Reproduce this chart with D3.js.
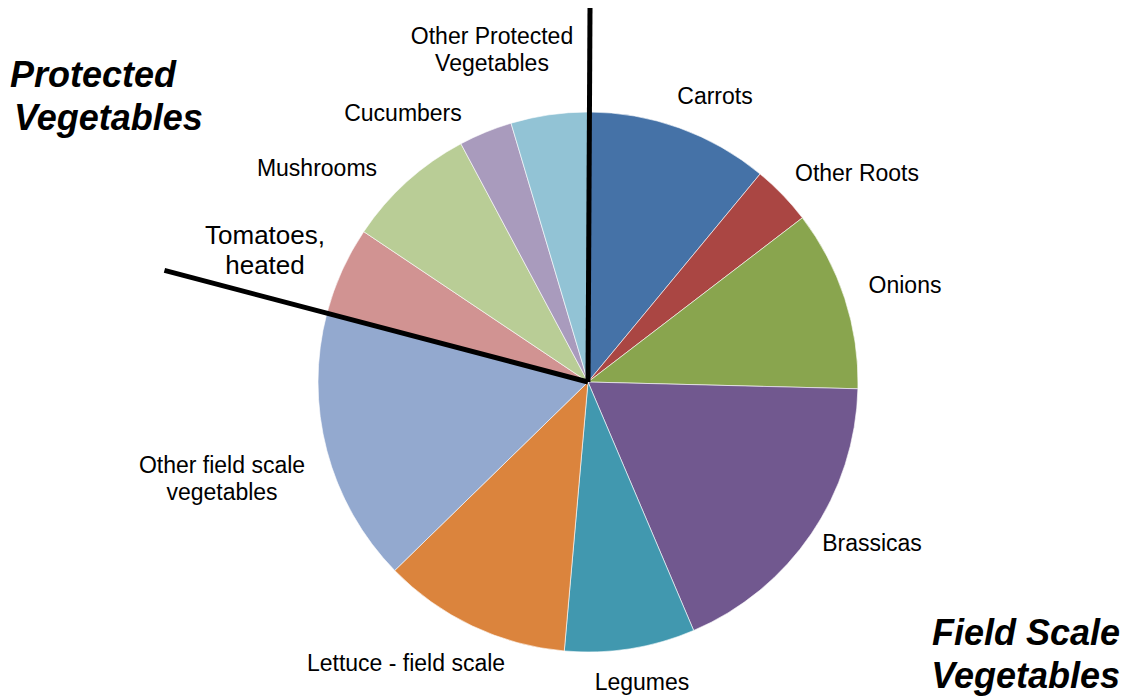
<!DOCTYPE html>
<html>
<head>
<meta charset="utf-8">
<script src="https://cdn.jsdelivr.net/npm/d3@7"></script>
<style>
  body { margin: 0; background: #fff; }
  svg { display: block; font-family: Arial, "Liberation Sans", sans-serif; }
</style>
</head>
<body>
<svg id="chart" width="1131" height="697"></svg>
<script>
const categories = ["Carrots", "Other Roots", "Onions", "Brassicas", "Legumes",
  "Lettuce - field scale", "Other field scale vegetables", "Tomatoes, heated",
  "Mushrooms", "Cucumbers", "Other Protected Vegetables"];
const values = [11.0, 3.6, 10.8, 18.2, 7.8, 11.3, 16.4, 5.3, 7.8, 3.2, 4.6];
const colors = ["#4572A7", "#AA4643", "#89A54E", "#71588F", "#4198AF",
  "#DB843D", "#93A9CF", "#D19392", "#B9CD96", "#A99BBD", "#92C3D5"];
// label lines (multi-line labels)
const labelLines = [["Carrots"], ["Other Roots"], ["Onions"], ["Brassicas"], ["Legumes"],
  ["Lettuce - field scale"], ["Other field scale", "vegetables"], ["Tomatoes,", "heated"],
  ["Mushrooms"], ["Cucumbers"], ["Other Protected", "Vegetables"]];
// label placement: [center x, first baseline y, font size, line gap]
const labelPos = [[715, 104, 23, 27], [857, 181, 23, 27], [905, 293, 23, 27], [872, 551, 23, 27],
  [642, 690, 23, 27], [406, 671, 23, 27], [222, 473, 23, 27], [265, 244, 26, 30],
  [317, 176, 23, 27], [403, 121, 23, 27], [492, 44, 23, 27]];
const groupTitles = [
  { lines: ["Protected", "Vegetables"], x: [10, 14], y: 87, anchor: "start" },
  { lines: ["Field Scale", "Vegetables"], x: [1120, 1120], y: 645, anchor: "end" }
];

const svg = d3.select("#chart");
const cx = 588, cy = 382, r = 270;

const pie = d3.pie().sort(null).value(d => d)(values);
const arc = d3.arc().innerRadius(0).outerRadius(r);

const g = svg.append("g").attr("transform", `translate(${cx},${cy})`);
g.selectAll("path").data(pie).join("path")
  .attr("d", arc)
  .attr("fill", (d, i) => colors[i])
  .attr("stroke", "#ffffff")
  .attr("stroke-width", 0.6);

// Divider lines: top (start of field scale group) and between field-scale / protected groups
const splitIndex = categories.indexOf("Tomatoes, heated");
const splitAngle = pie[splitIndex].startAngle;
const lineLenTop = cy - 8;
const lineLenSplit = 438;
g.append("line")
  .attr("x1", 0).attr("y1", 0)
  .attr("x2", 2).attr("y2", -lineLenTop)
  .attr("stroke", "#000").attr("stroke-width", 5);
g.append("line")
  .attr("x1", 0).attr("y1", 0)
  .attr("x2", Math.sin(splitAngle) * lineLenSplit)
  .attr("y2", -Math.cos(splitAngle) * lineLenSplit)
  .attr("stroke", "#000").attr("stroke-width", 5).attr("stroke-linecap", "butt");

// Slice labels
labelLines.forEach((lines, i) => {
  const p = labelPos[i];
  const t = svg.append("text")
    .attr("text-anchor", "middle")
    .attr("font-size", p[2])
    .attr("fill", "#000");
  lines.forEach((ln, j) => {
    t.append("tspan").attr("x", p[0]).attr("y", p[1] + j * p[3]).text(ln);
  });
});

// Group titles
groupTitles.forEach(gt => {
  const t = svg.append("text")
    .attr("text-anchor", gt.anchor)
    .attr("font-size", 36)
    .attr("font-weight", "bold")
    .attr("font-style", "italic")
    .attr("fill", "#000");
  gt.lines.forEach((ln, j) => {
    t.append("tspan").attr("x", gt.x[j]).attr("y", gt.y + j * 43).text(ln);
  });
});
</script>
</body>
</html>
